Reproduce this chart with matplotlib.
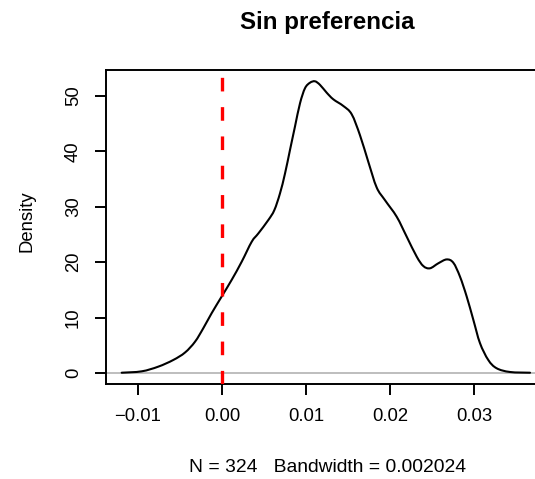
import matplotlib
matplotlib.use("Agg")
import matplotlib.pyplot as plt
import numpy as np
from matplotlib.path import Path
from matplotlib.patches import PathPatch

# Kernel density estimate of the "Sin preferencia" sample (x, density)
dens_x = [-0.01194, -0.00956, -0.00758, -0.00580, -0.00440, -0.00321, -0.00222,
          -0.00123, -0.00004, 0.00115, 0.00235, 0.00354, 0.00433, 0.00551,
          0.00623, 0.00690, 0.00750, 0.00810, 0.00869, 0.00929, 0.00988,
          0.01048, 0.01107, 0.01167, 0.01246, 0.01325, 0.01444, 0.01544,
          0.01643, 0.01742, 0.01841, 0.01940, 0.02080, 0.02199, 0.02318,
          0.02397, 0.02476, 0.02575, 0.02675, 0.02754, 0.02833, 0.02913,
          0.02992, 0.03071, 0.03170, 0.03270, 0.03429, 0.03667]
dens_y = [0.05, 0.30, 1.15, 2.35, 3.7, 5.65, 8.1,
          10.8, 13.8, 16.8, 20.1, 23.7, 25.2, 27.6,
          29.4, 32.4, 36.0, 40.3, 44.5, 48.7, 51.4,
          52.4, 52.65, 52.0, 50.6, 49.4, 48.2, 46.7,
          42.9, 38.1, 33.5, 31.2, 28.2, 24.6, 21.0,
          19.3, 18.9, 19.8, 20.5, 19.9, 17.4, 13.8,
          9.6, 5.4, 2.35, 0.85, 0.18, 0.05]

x_ticks = [-0.01, 0.00, 0.01, 0.02, 0.03]
x_tick_labels = ["\u22120.01", "0.00", "0.01", "0.02", "0.03"]
y_ticks = [0, 10, 20, 30, 40, 50]
reference_x = 0.0

n_obs = 324
bandwidth = 0.002024


def smooth_path(xs, ys):
    """Catmull-Rom curve through the points, expressed as cubic Bezier segments."""
    p = np.column_stack([xs, ys])
    p = np.vstack([p[0], p, p[-1]])
    verts = [tuple(p[1])]
    codes = [Path.MOVETO]
    for i in range(1, len(p) - 2):
        p0, p1, p2, p3 = p[i - 1], p[i], p[i + 1], p[i + 2]
        c1 = p1 + (p2 - p0) / 6.0
        c2 = p2 - (p3 - p1) / 6.0
        verts += [tuple(c1), tuple(c2), tuple(p2)]
        codes += [Path.CURVE4] * 3
    return Path(verts, codes)


W, H = 535, 479
fig = plt.figure(figsize=(W / 100, H / 100), dpi=100)
plt.rcParams["font.family"] = ["Liberation Sans", "DejaVu Sans"]
plt.rcParams["lines.scale_dashes"] = False

# plot region in pixels (extends past the right edge of the canvas)
left_px, right_px, top_px, bottom_px = 105.7, 545.0, 70.0, 384.0
ax = fig.add_axes([left_px / W, (H - bottom_px) / H,
                   (right_px - left_px) / W, (bottom_px - top_px) / H])

xmin, xmax = -0.013845, 0.038452
ymin, ymax = -1.986, 54.69
ax.set_xlim(xmin, xmax)
ax.set_ylim(ymin, ymax)

ax.axhline(0, color="#bebebe", lw=1.4, zorder=1)
ax.add_patch(PathPatch(smooth_path(dens_x, dens_y), fill=False,
                       edgecolor="black", lw=1.5, zorder=3,
                       joinstyle="round", capstyle="round"))
ax.plot([reference_x, reference_x], [ymin, ymax], color="#ff0000", lw=2.4,
        dashes=(9.8, 11.3), dash_capstyle="butt", zorder=4, clip_on=True)

for s in ax.spines.values():
    s.set_linewidth(1.4)
    s.set_color("black")

ax.set_xticks(x_ticks)
ax.set_xticklabels(x_tick_labels)
ax.set_yticks(y_ticks)
ax.set_yticklabels([str(v) for v in y_ticks], rotation=90, va="center")
ax.tick_params(axis="both", direction="out", length=8, width=1.4,
               labelsize=13.3, colors="black")
ax.tick_params(axis="x", pad=9)
ax.tick_params(axis="y", pad=9)

fig.text(327.5 / W, (H - 23) / H, "Sin preferencia", ha="center", va="center",
         fontsize=17.4, fontweight="bold")
fig.text(327.6 / W, (H - 468) / H,
         f"N = {n_obs}   Bandwidth = {bandwidth:g}", ha="center", va="center",
         fontsize=13.9)
fig.text(27 / W, (H - 221) / H, "Density", rotation=90, ha="center",
         va="center", fontsize=13.3)

fig.savefig("out.png", dpi=100)
